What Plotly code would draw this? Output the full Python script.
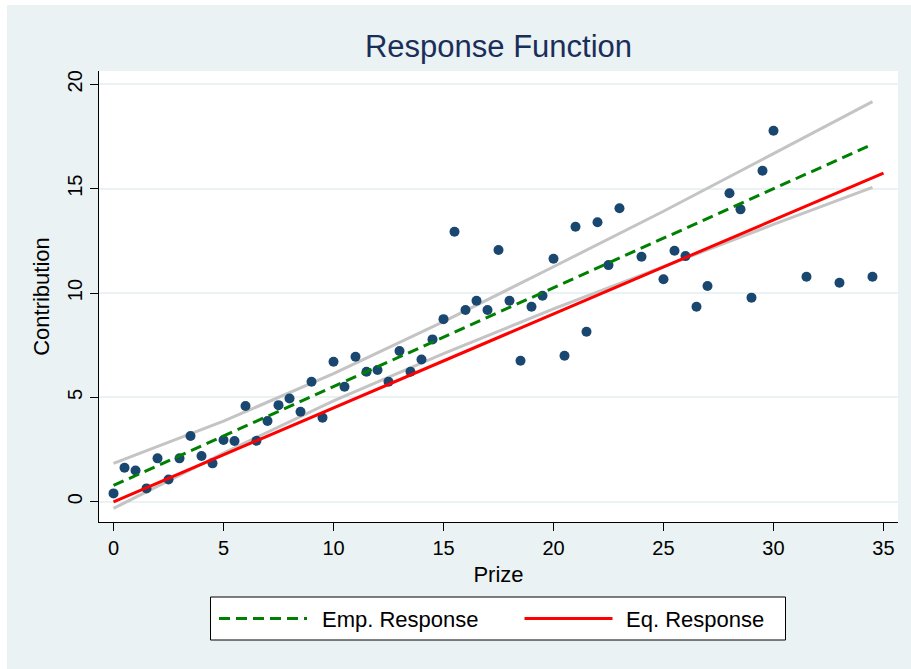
import plotly.graph_objects as go

# ---- data ----
prize = [0, 0.5, 1, 1.5, 2, 2.5, 3, 3.5, 4, 4.5, 5, 5.5, 6, 6.5, 7, 7.5, 8, 8.5, 9, 9.5,
         10, 10.5, 11, 11.5, 12, 12.5, 13, 13.5, 14, 14.5, 15, 15.5, 16, 16.5, 17, 17.5,
         18, 18.5, 19, 19.5, 20, 20.5, 21, 21.5, 22, 22.5, 23, 24, 25, 25.5, 26, 26.5,
         27, 28, 28.5, 29, 29.5, 30, 31.5, 33, 34.5]
contribution = [0.40, 1.63, 1.50, 0.64, 2.08, 1.07, 2.08, 3.15, 2.19, 1.84,
                2.96, 2.91, 4.59, 2.92, 3.87, 4.63, 4.95, 4.31, 5.75, 4.03,
                6.71, 5.51, 6.95, 6.23, 6.31, 5.75, 7.22, 6.23, 6.82, 7.78,
                8.75, 12.94, 9.19, 9.63, 9.19, 12.06, 9.63, 6.76, 9.34, 9.87,
                11.64, 7.00, 13.18, 8.15, 13.39, 11.34, 14.06, 11.74, 10.66, 12.03,
                11.77, 9.34, 10.34, 14.78, 14.01, 9.78, 15.86, 17.78, 10.78, 10.49, 10.78]

emp_x = [0, 34.5]
emp_y = [0.78, 17.13]
eq_x = [0, 35]
eq_y = [0.0, 15.75]
ci_x = [0, 5, 10, 15, 20, 25, 30, 34.5]
ci_upper = [1.84, 3.86, 6.14, 8.63, 11.26, 13.92, 16.68, 19.17]
ci_lower = [-0.32, 2.33, 4.83, 7.10, 9.24, 11.28, 13.29, 15.06]

x_ticks = [0, 5, 10, 15, 20, 25, 30, 35]
y_ticks = [0, 5, 10, 15, 20]

FONT = "Liberation Sans, Arial, sans-serif"
BG = "#EAF2F3"
NAVY = "#1A476F"
GREEN = "#008000"
RED = "#FF0000"
GRAY = "#C4C4C4"
DASH = "11px,6px"

fig = go.Figure()
fig.add_trace(go.Scatter(x=ci_x, y=ci_upper, mode="lines", line=dict(color=GRAY, width=3),
                         name="Upper CI", showlegend=False, hoverinfo="skip"))
fig.add_trace(go.Scatter(x=ci_x, y=ci_lower, mode="lines", line=dict(color=GRAY, width=3),
                         name="Lower CI", showlegend=False, hoverinfo="skip"))
fig.add_trace(go.Scatter(x=prize, y=contribution, mode="markers",
                         marker=dict(color=NAVY, size=10, line=dict(width=0)),
                         name="Contribution", showlegend=False))
fig.add_trace(go.Scatter(x=emp_x, y=emp_y, mode="lines",
                         line=dict(color=GREEN, width=3, dash=DASH),
                         name="Emp. Response", showlegend=False))
fig.add_trace(go.Scatter(x=eq_x, y=eq_y, mode="lines", line=dict(color=RED, width=3),
                         name="Eq. Response", showlegend=False))

# plot area in pixels: x 99..898, y 71..522
L, R, T, B = 99, 898, 71, 522
PW, PH = R - L, B - T
def px(x):
    return (x - L) / PW
def py(y):
    return (B - y) / PH

shapes = [
    # thin white outer border (top and left)
    dict(type="rect", xref="paper", yref="paper", x0=px(0), x1=px(911), y0=py(5), y1=py(0),
         fillcolor="white", line=dict(width=0), layer="below"),
    dict(type="rect", xref="paper", yref="paper", x0=px(0), x1=px(7), y0=py(669), y1=py(0),
         fillcolor="white", line=dict(width=0), layer="below"),
    # legend box
    dict(type="rect", xref="paper", yref="paper", x0=px(210.5), x1=px(785.5),
         y0=py(640), y1=py(597), fillcolor="white", line=dict(color="black", width=1)),
    dict(type="line", xref="paper", yref="paper", x0=px(219), x1=px(307),
         y0=py(618.5), y1=py(618.5), line=dict(color=GREEN, width=3, dash=DASH)),
    dict(type="line", xref="paper", yref="paper", x0=px(524.5), x1=px(612.5),
         y0=py(618.5), y1=py(618.5), line=dict(color=RED, width=3)),
]
annotations = [
    dict(text="Emp. Response", xref="paper", yref="paper", x=px(320), y=py(619),
         xanchor="left", yanchor="middle", showarrow=False,
         font=dict(family=FONT, size=22, color="black")),
    dict(text="Eq. Response", xref="paper", yref="paper", x=px(624), y=py(619),
         xanchor="left", yanchor="middle", showarrow=False,
         font=dict(family=FONT, size=22, color="black")),
]

fig.update_layout(
    width=911, height=669,
    margin=dict(l=L, r=911 - R, t=T, b=669 - B, pad=0),
    paper_bgcolor=BG, plot_bgcolor="white",
    showlegend=False,
    font=dict(family=FONT, size=20, color="black"),
    title=dict(text="Response Function", x=0.5, xref="paper", xanchor="center",
               y=1 - 46 / 669, yref="container", yanchor="middle",
               font=dict(family=FONT, size=31, color="#1A2E5A")),
    shapes=shapes, annotations=annotations,
)
fig.update_xaxes(range=[-0.66, 35.66], tickmode="array", tickvals=x_ticks,
                 ticks="outside", ticklen=8, tickwidth=1, tickcolor="black",
                 showline=True, linecolor="black", linewidth=1,
                 showgrid=False, zeroline=False,
                 tickfont=dict(family=FONT, size=20, color="black"),
                 title=dict(text="Prize", font=dict(family=FONT, size=22, color="black"),
                            standoff=8))
fig.update_yaxes(range=[-0.97, 20.64], tickmode="array", tickvals=y_ticks,
                 tickangle=-90,
                 ticks="outside", ticklen=8, tickwidth=1, tickcolor="black",
                 showline=True, linecolor="black", linewidth=1,
                 showgrid=True, gridcolor=BG, gridwidth=1.5, zeroline=False,
                 tickfont=dict(family=FONT, size=20, color="black"),
                 title=dict(text="Contribution", font=dict(family=FONT, size=22, color="black"),
                            standoff=8))

fig.write_html("out.html")
